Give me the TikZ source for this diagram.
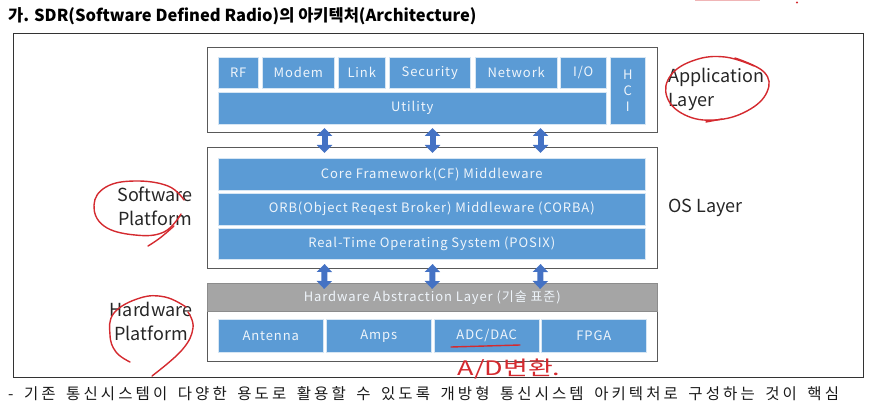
\documentclass[tikz,border=0pt]{standalone}
\usepackage{fontspec}
\setmainfont{Noto Sans CJK KR}
\newfontfamily\boxfont{Noto Sans CJK KR}[LetterSpace=7]
\newfontfamily\notefont{Noto Sans CJK KR}[LetterSpace=20, WordSpace=1.6]
\usetikzlibrary{arrows.meta}

\definecolor{boxblue}{HTML}{5B9BD5}
\definecolor{arrowblue}{HTML}{4472C4}
\definecolor{halgray}{HTML}{A5A5A5}
\definecolor{pen}{HTML}{D42A2F}

\begin{document}
\begin{tikzpicture}[
                x=1pt, y=-1pt, % 1 单位 = 1 像素, y 向下
                frame/.style={draw=black!80, line width=0.8pt, inner sep=0, anchor=north west}, % 外框
                layerbox/.style={draw=black!65, fill=white, line width=1pt, inner sep=0, anchor=north west}, % 层框
                blk/.style={
                    fill=boxblue, % 蓝色块
                    draw=white!75!boxblue, % 浅色边
                    line width=0.5pt,
                    text=white!90!boxblue,
                    font=\boxfont\fontsize{13}{14}\selectfont,
                    inner sep=0,
                    anchor=north west
                },
                dbl/.style={
                    draw=arrowblue, line width=6pt, % 双向箭头
                    {Triangle[width=15pt, length=8pt]}-{Triangle[width=15pt, length=8pt]},
                    shorten <=-5pt, shorten >=-6pt
                },
                side/.style={font=\fontsize{18}{24}\selectfont, text=black!85, align=left, inner sep=0}, % 侧边标签
                scribble/.style={draw=pen, line width=1.4pt, line cap=round, line join=round} % 红笔
            ]
            \useasboundingbox (0,0) rectangle (873,417);

            % 标题
            \node[anchor=west, inner sep=0, font=\bfseries\fontsize{16.5}{16.5}\selectfont] (title) at (8,16)
                {가. SDR(Software Defined Radio)의 아키텍처(Architecture)};

            % 外框
            \node[frame, minimum width=850pt, minimum height=344pt] (outer) at (13,33) {};

            % 三个层框
            \node[layerbox, minimum width=450pt, minimum height=85pt] (app) at (207,47) {};
            \node[layerbox, minimum width=450pt, minimum height=121pt] (os) at (207,147) {};
            \node[layerbox, minimum width=450pt, minimum height=50pt] (hw) at (207,311) {};
            \node[blk, fill=halgray, draw=halgray!85!black, minimum width=450pt, minimum height=28pt] (hal) at (207,283)
                {Hardware Abstraction Layer (기술 표준)};

            % 应用层
            \foreach \name/\xa/\xb [count=\i] in {RF/218/258, Modem/262/334, Link/338/385,
                    Security/389/470, Network/475/557, {I/O}/560/606} {
                \node[blk, minimum width=\xb pt-\xa pt, minimum height=31pt] (app\i) at (\xa,57) {\name};
            }
            \node[blk, minimum width=388pt, minimum height=32pt] (utility) at (218,92) {Utility};
            \node[blk, minimum width=35pt, minimum height=67pt, align=center, font=\boxfont\fontsize{13}{16}\selectfont] (hci) at (610,57) {H\\C\\I};

            % OS 层
            \node[blk, minimum width=427pt, minimum height=32pt] (cf) at (218,158) {Core Framework(CF) Middleware};
            \node[blk, minimum width=427pt, minimum height=32pt] (orb) at (218,193) {ORB(Object Reqest Broker) Middleware (CORBA)};
            \node[blk, minimum width=427pt, minimum height=31pt] (rtos) at (218,228) {Real-Time Operating System (POSIX)};

            % 硬件
            \foreach \name/\xa [count=\i] in {Antenna/218, Amps/326, {ADC/DAC}/434, FPGA/541} {
                \node[blk, minimum width=105pt, minimum height=33pt] (hw\i) at (\xa,319) {\name};
            }

            % 层间箭头
            \foreach \dx in {-108, 0, 108} {
                \draw[dbl] ([xshift=\dx pt]app.south) -- ([xshift=\dx pt]os.north);
                \draw[dbl] ([xshift=\dx pt]os.south) -- ([xshift=\dx pt]hal.north);
            }

            % 侧边标签
            \node[side, anchor=west] (applabel) at (668,89) {Application\\Layer};
            \node[side, anchor=west] (oslabel) at (668,208) {OS Layer};
            \node[side, align=center] (swlabel) at (155,206) {Software\\Platform};
            \node[side, align=center] (hwlabel) at (151,321) {Hardware\\Platform};

            % 底部说明
            \node[anchor=west, inner sep=0, font=\notefont\fontsize{15.5}{15.5}\selectfont, text=black!90] (note) at (8,394)
                {- 기존 통신시스템이 다양한 용도로 활용할 수 있도록 개방형 통신시스템 아키텍처로 구성하는 것이 핵심};

            % 红笔批注
            \draw[scribble] plot[smooth, tension=0.7] coordinates {(735,58) (764,72) (767,92) (747,111) (715,120)
                (685,115) (667,97) (671,75) (695,60) (725,57) (754,66)};
            \draw[scribble] (706,122) -- (722,119);
            \draw[scribble] plot[smooth, tension=0.7] coordinates {(184,200) (168,186) (135,181) (106,187) (94,205)
                (104,226) (135,235) (164,232) (181,214)};
            \draw[scribble] plot[smooth, tension=0.7] coordinates {(174,226) (160,238) (148,246)};
            \draw[scribble] plot[smooth, tension=0.7] coordinates {(186,307) (165,297) (140,298) (114,313)
                (110,335) (116,352) (130,362)};
            \draw[scribble] plot[smooth, tension=0.7] coordinates {(188,312) (193,328) (182,350) (152,376)};
            \draw[scribble] (451,347) -- (520,345);
            \node[text=pen, inner sep=0, font=\fontsize{20}{20}\selectfont, xscale=1.35] (adnote) at (509,369) {A/D변환.};
            \draw[pen!35, line width=2pt] (695,0.5) -- (760,0.5);
            \fill[pen] (797,2.5) circle (1.2);
\end{tikzpicture}
\end{document}
